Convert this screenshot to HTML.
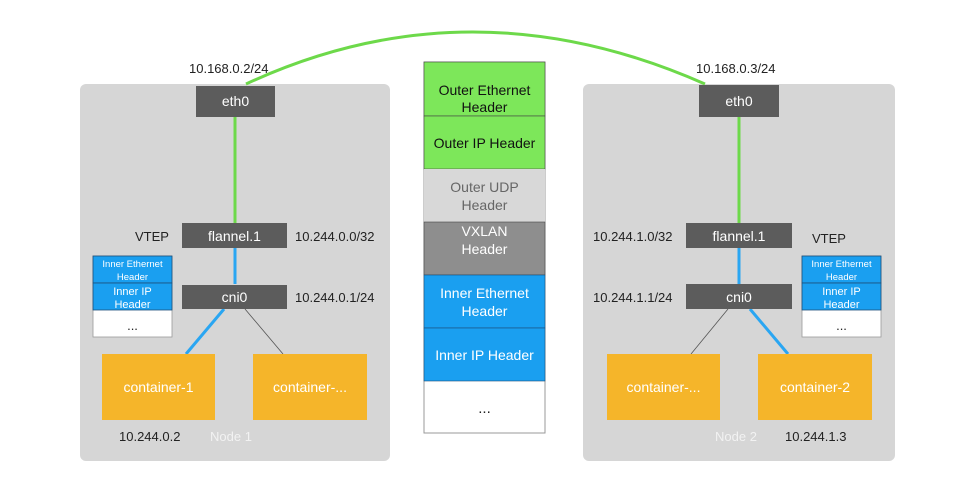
<!DOCTYPE html>
<html><head><style>html,body{margin:0;padding:0;background:#fff}svg{display:block}text{font-family:"Liberation Sans",sans-serif}</style></head><body>
<svg width="969" height="503" viewBox="0 0 969 503" xmlns="http://www.w3.org/2000/svg">
<rect x="80" y="84" width="310" height="377" rx="6" fill="#d6d6d6"/>
<rect x="583" y="84" width="312" height="377" rx="6" fill="#d6d6d6"/>
<path d="M246 84 Q470 -20 705 84" fill="none" stroke="#6dd94a" stroke-width="3"/>
<line x1="235" y1="117" x2="235" y2="223" stroke="#6dd94a" stroke-width="3"/>
<line x1="235" y1="248" x2="235" y2="284" stroke="#2aa6f2" stroke-width="3"/>
<line x1="224" y1="309" x2="186" y2="354" stroke="#2aa6f2" stroke-width="3"/>
<line x1="245" y1="309" x2="283" y2="354" stroke="#555" stroke-width="0.8"/>
<line x1="739" y1="117" x2="739" y2="223" stroke="#6dd94a" stroke-width="3"/>
<line x1="739" y1="248" x2="739" y2="284" stroke="#2aa6f2" stroke-width="3"/>
<line x1="750" y1="309" x2="788" y2="354" stroke="#2aa6f2" stroke-width="3"/>
<line x1="728" y1="309" x2="691" y2="354" stroke="#555" stroke-width="0.8"/>
<g font-size="14" text-anchor="middle">
<rect x="196" y="86" width="79" height="31" fill="#5c5c5c"/><text x="235.5" y="106" fill="#fff">eth0</text>
<rect x="182" y="223" width="105" height="25" fill="#5c5c5c"/><text x="234.5" y="241" fill="#fff">flannel.1</text>
<rect x="182" y="285" width="105" height="24" fill="#5c5c5c"/><text x="234.5" y="302" fill="#fff">cni0</text>
<rect x="102" y="354" width="113" height="66" fill="#f5b52a"/><text x="158.5" y="392" fill="#fff">container-1</text>
<rect x="253" y="354" width="114" height="66" fill="#f5b52a"/><text x="310" y="392" fill="#fff">container-...</text>
<rect x="699" y="85" width="80" height="32" fill="#5c5c5c"/><text x="739" y="106" fill="#fff">eth0</text>
<rect x="686" y="223" width="106" height="25" fill="#5c5c5c"/><text x="739" y="241" fill="#fff">flannel.1</text>
<rect x="686" y="284" width="106" height="25" fill="#5c5c5c"/><text x="739" y="302" fill="#fff">cni0</text>
<rect x="607" y="354" width="113" height="66" fill="#f5b52a"/><text x="663.5" y="392" fill="#fff">container-...</text>
<rect x="758" y="354" width="114" height="66" fill="#f5b52a"/><text x="815" y="392" fill="#fff">container-2</text>
</g>
<g font-size="13" fill="#222">
<text x="189" y="73">10.168.0.2/24</text>
<text x="696" y="73">10.168.0.3/24</text>
<text x="135" y="241">VTEP</text>
<text x="295" y="241">10.244.0.0/32</text>
<text x="295" y="302">10.244.0.1/24</text>
<text x="119" y="441">10.244.0.2</text>
<text x="210" y="441" fill="#f2f2f2">Node 1</text>
<text x="593" y="241">10.244.1.0/32</text>
<text x="593" y="302">10.244.1.1/24</text>
<text x="812" y="243">VTEP</text>
<text x="715" y="441" fill="#f2f2f2">Node 2</text>
<text x="785" y="441">10.244.1.3</text>
</g>
<g font-size="11" text-anchor="middle" fill="#fff">
<rect x="93" y="256" width="79" height="81" fill="#fff" stroke="#999" stroke-width="0.8"/>
<rect x="93" y="256" width="79" height="27" fill="#1a9ff0" stroke="#1d4f7a" stroke-width="0.8"/>
<rect x="93" y="283" width="79" height="27" fill="#1a9ff0" stroke="#1d4f7a" stroke-width="0.8"/>
<text x="132.5" y="267" font-size="9.5">Inner Ethernet</text><text x="132.5" y="280" font-size="9.5">Header</text>
<text x="132.5" y="295">Inner IP</text><text x="132.5" y="308">Header</text>
<text x="132.5" y="330" fill="#222" font-size="13">...</text>
<rect x="802" y="256" width="79" height="81" fill="#fff" stroke="#999" stroke-width="0.8"/>
<rect x="802" y="256" width="79" height="27" fill="#1a9ff0" stroke="#1d4f7a" stroke-width="0.8"/>
<rect x="802" y="283" width="79" height="27" fill="#1a9ff0" stroke="#1d4f7a" stroke-width="0.8"/>
<text x="841.5" y="267" font-size="9.5">Inner Ethernet</text><text x="841.5" y="280" font-size="9.5">Header</text>
<text x="841.5" y="295">Inner IP</text><text x="841.5" y="308">Header</text>
<text x="841.5" y="330" fill="#222" font-size="13">...</text>
</g>
<g font-size="14" text-anchor="middle">
<rect x="424" y="62" width="121" height="371" fill="#fff" stroke="#999" stroke-width="1"/>
<rect x="424" y="62" width="121" height="54" fill="#7de75a" stroke="#444" stroke-width="0.6"/>
<rect x="424" y="116" width="121" height="53" fill="#7de75a" stroke="#444" stroke-width="0.6"/>
<rect x="424" y="169" width="121" height="53" fill="#d8d8d8"/>
<rect x="424" y="222" width="121" height="53" fill="#8e8e8e" stroke="#444" stroke-width="0.6"/>
<rect x="424" y="275" width="121" height="53" fill="#1a9ff0" stroke="#1d4f7a" stroke-width="0.6"/>
<rect x="424" y="328" width="121" height="53" fill="#1a9ff0" stroke="#1d4f7a" stroke-width="0.6"/>
<text x="484.5" y="95" fill="#111">Outer Ethernet</text><text x="484.5" y="112" fill="#111">Header</text>
<text x="484.5" y="148" fill="#111">Outer IP Header</text>
<text x="484.5" y="192" fill="#666">Outer UDP</text><text x="484.5" y="210" fill="#666">Header</text>
<text x="484.5" y="236" fill="#fff">VXLAN</text><text x="484.5" y="254" fill="#fff">Header</text>
<text x="484.5" y="298" fill="#fff">Inner Ethernet</text><text x="484.5" y="316" fill="#fff">Header</text>
<text x="484.5" y="360" fill="#fff">Inner IP Header</text>
<text x="484.5" y="413" fill="#222" font-size="15">...</text>
</g>
</svg>
</body></html>
